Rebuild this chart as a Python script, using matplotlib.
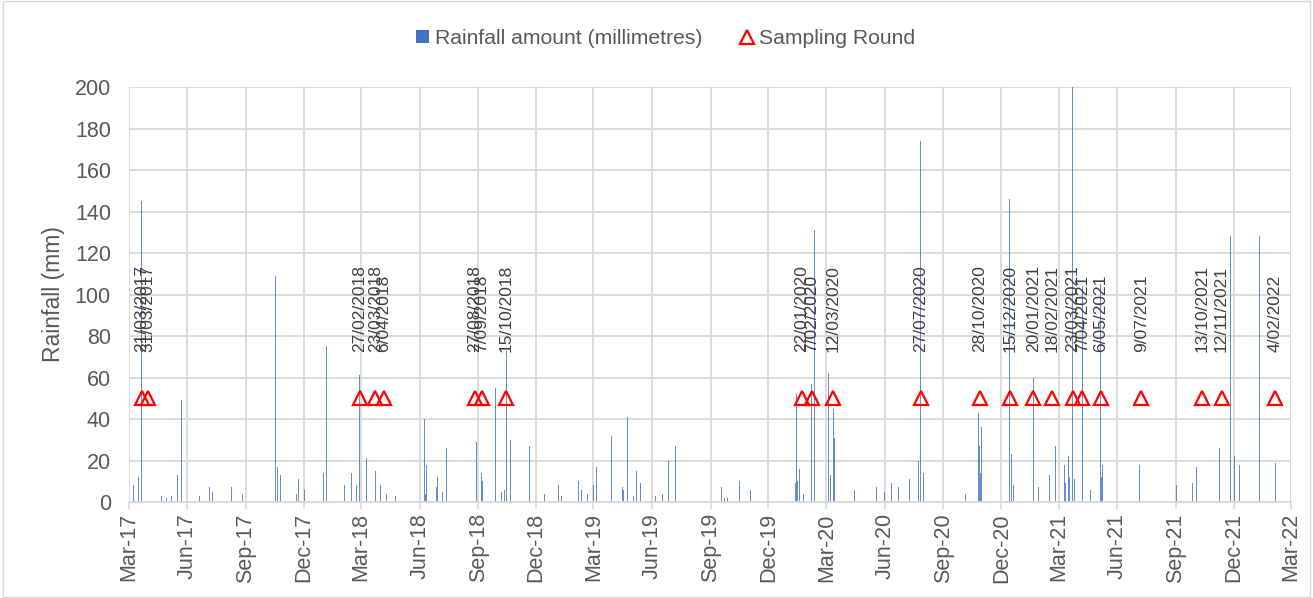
import matplotlib
matplotlib.use("Agg")
import matplotlib.pyplot as plt
import matplotlib.dates as mdates
from matplotlib import font_manager
from matplotlib.lines import Line2D
from matplotlib.patches import Patch, Rectangle
import pandas as pd

plt.rcParams["font.family"] = ["Liberation Sans", "DejaVu Sans"]

# daily rainfall (mm)
rain_dates = [
    "2017-03-08", "2017-03-16", "2017-03-21", "2017-03-23", "2017-03-31", "2017-04-08", "2017-04-11",
    "2017-04-21", "2017-04-25", "2017-04-29", "2017-05-07", "2017-05-11", "2017-05-16", "2017-05-20",
    "2017-05-23", "2017-06-13", "2017-06-16", "2017-06-20", "2017-07-06", "2017-07-10", "2017-07-19",
    "2017-08-09", "2017-08-26", "2017-08-27", "2017-10-04", "2017-10-17", "2017-10-20", "2017-10-25",
    "2017-11-09", "2017-11-14", "2017-11-19", "2017-11-22", "2017-12-02", "2017-12-06", "2017-12-12",
    "2017-12-28",
    "2018-01-01", "2018-01-03", "2018-01-05", "2018-01-30", "2018-02-03", "2018-02-05", "2018-02-14",
    "2018-02-22", "2018-02-26", "2018-02-27", "2018-03-07", "2018-03-09", "2018-03-15", "2018-03-23",
    "2018-03-31", "2018-04-04", "2018-04-10", "2018-04-24", "2018-05-09", "2018-05-29", "2018-06-08",
    "2018-06-10", "2018-06-12", "2018-06-27", "2018-06-29", "2018-07-07", "2018-07-13", "2018-08-08",
    "2018-08-29", "2018-09-06", "2018-09-08", "2018-09-28", "2018-10-07", "2018-10-12", "2018-10-15",
    "2018-10-16", "2018-10-22", "2018-10-30", "2018-11-20", "2018-11-29", "2018-12-07", "2018-12-14",
    "2018-12-18",
    "2019-01-05", "2019-01-10", "2019-02-05", "2019-02-10", "2019-02-20", "2019-02-25", "2019-03-01",
    "2019-03-06", "2019-03-08", "2019-03-16", "2019-03-19", "2019-03-27", "2019-03-29", "2019-03-30",
    "2019-04-04", "2019-04-07", "2019-04-16", "2019-04-17", "2019-04-23", "2019-05-03", "2019-05-08",
    "2019-05-14", "2019-05-18", "2019-05-24", "2019-06-06", "2019-06-17", "2019-06-26", "2019-06-27",
    "2019-07-01", "2019-07-08", "2019-09-18", "2019-09-23", "2019-09-28", "2019-10-14", "2019-10-16",
    "2019-11-03", "2019-12-02", "2019-12-16",
    "2020-01-12", "2020-01-14", "2020-01-16", "2020-01-19", "2020-01-21", "2020-01-25", "2020-02-06",
    "2020-02-07", "2020-02-11", "2020-02-12", "2020-02-26", "2020-03-04", "2020-03-07", "2020-03-12",
    "2020-03-14", "2020-03-27", "2020-04-14", "2020-05-19", "2020-05-21", "2020-05-31", "2020-06-09",
    "2020-06-11", "2020-06-15", "2020-06-22", "2020-07-10", "2020-07-24", "2020-07-27", "2020-08-01",
    "2020-08-03", "2020-08-31", "2020-09-11", "2020-09-22", "2020-10-06", "2020-10-26", "2020-10-28",
    "2020-10-29", "2020-10-31", "2020-12-10", "2020-12-14", "2020-12-17", "2020-12-20",
    "2021-01-18", "2021-01-20", "2021-01-28", "2021-02-15", "2021-02-17", "2021-02-24", "2021-03-03",
    "2021-03-10", "2021-03-12", "2021-03-16", "2021-03-18", "2021-03-22", "2021-03-23", "2021-03-26",
    "2021-04-07", "2021-04-08", "2021-04-20", "2021-05-06", "2021-05-07", "2021-05-09", "2021-05-11",
    "2021-06-04", "2021-06-29", "2021-07-06", "2021-07-18", "2021-08-09", "2021-08-23", "2021-09-02",
    "2021-09-27", "2021-10-01", "2021-10-04", "2021-10-12", "2021-10-14", "2021-10-20", "2021-11-09",
    "2021-11-11", "2021-11-26", "2021-11-27", "2021-12-02", "2021-12-10",
    "2022-01-11", "2022-01-24", "2022-02-04", "2022-02-05",
]
rain_mm = [
    8, 12, 145, 5, 55, 7, 3,
    3, 5, 2, 3, 17, 13, 6,
    49, 42, 27, 3, 7, 5, 18,
    7, 4, 2, 41, 109, 17, 13,
    14, 8, 4, 11, 6, 38, 8,
    41,
    14, 10, 75, 15, 8, 31, 14,
    8, 61, 22, 27, 21, 10, 15,
    8, 24, 4, 3, 32, 9, 40,
    4, 18, 7, 12, 5, 26, 3,
    29, 14, 10, 55, 5, 6, 73,
    20, 30, 8, 27, 10, 13, 4,
    20,
    8, 3, 10, 6, 4, 10, 8,
    17, 3, 22, 120, 12, 32, 22,
    24, 8, 7, 6, 41, 3, 15,
    9, 28, 4, 3, 4, 55, 20,
    8, 27, 7, 2, 2, 31, 10,
    6, 8, 10,
    9, 52, 10, 16, 147, 4, 13,
    57, 131, 11, 22, 62, 13, 45,
    31, 8, 6, 7, 5, 5, 12,
    9, 6, 7, 11, 20, 174, 14,
    11, 5, 16, 8, 4, 43, 27,
    14, 36, 5, 146, 23, 8,
    16, 60, 7, 13, 9, 27, 18,
    18, 9, 22, 12, 163, 205, 11,
    104, 34, 6, 105, 12, 18, 19,
    9, 11, 18, 6, 7, 6, 8,
    9, 20, 17, 29, 40, 42, 26,
    25, 128, 36, 22, 18,
    128, 55, 19, 19,
]

sampling_dates = [
    "21/03/2017", "31/03/2017", "27/02/2018", "23/03/2018", "6/04/2018", "27/08/2018", "7/09/2018",
    "15/10/2018", "22/01/2020", "7/02/2020", "12/03/2020", "27/07/2020", "28/10/2020", "15/12/2020",
    "20/01/2021", "18/02/2021", "23/03/2021", "7/04/2021", "6/05/2021", "9/07/2021", "13/10/2021",
    "12/11/2021", "4/02/2022",
]
sampling_level = [50] * len(sampling_dates)

rain_x = pd.to_datetime(rain_dates)
samp_x = pd.to_datetime(sampling_dates, format="%d/%m/%Y")

grey_text = "#595959"
grid_col = "#D9D9D9"

# narrower face for the date labels if it is there
installed = {f.name for f in font_manager.fontManager.ttflist}
if "Liberation Sans Narrow" in installed:
    label_font, label_size = "Liberation Sans Narrow", 14.5
else:
    label_font, label_size = "Liberation Sans", 12.5

fig = plt.figure(figsize=(13.13, 5.98), dpi=100)
ax = fig.add_axes([0.0982, 0.1605, 0.885, 0.694])

ax.bar(rain_x, rain_mm, width=1.0, color="#4472C4", alpha=0.8, linewidth=0, zorder=2)

ax.plot(samp_x, sampling_level, linestyle="none", marker="^", markersize=9.5,
        markerfacecolor="none", markeredgecolor="#FF0000", markeredgewidth=1.6, zorder=4)
for x, y, lab in zip(samp_x, sampling_level, sampling_dates):
    ax.annotate(lab, (x, y), xytext=(0, 33), textcoords="offset points", rotation=90,
                ha="center", va="bottom", fontsize=label_size, family=label_font,
                color="#404040", zorder=5)

ax.set_xlim(pd.Timestamp("2017-03-01"), pd.Timestamp("2022-03-01"))
ax.set_ylim(0, 200)
ax.set_yticks(range(0, 201, 20))
ax.xaxis.set_major_locator(mdates.MonthLocator(bymonth=[3, 6, 9, 12]))
ax.xaxis.set_major_formatter(mdates.DateFormatter("%b-%y"))
ax.tick_params(axis="x", rotation=90, labelsize=15.5, labelcolor=grey_text, color=grid_col,
               length=5, width=1.2, pad=3)
ax.tick_params(axis="y", labelsize=15.5, labelcolor=grey_text, length=0, pad=13)
ax.set_ylabel("Rainfall (mm)", fontsize=16.5, color=grey_text)
ax.yaxis.set_label_coords(-0.055, 0.5)

ax.grid(True, color=grid_col, linewidth=1.3, zorder=0)
ax.set_axisbelow(True)
for side in ["top", "right", "left"]:
    ax.spines[side].set_visible(False)
ax.spines["bottom"].set_color(grid_col)
ax.spines["bottom"].set_linewidth(1.3)

handles = [
    Patch(facecolor="#4472C4", edgecolor="none", label="Rainfall amount (millimetres)"),
    Line2D([], [], linestyle="none", marker="^", markersize=9.5, markerfacecolor="none",
           markeredgecolor="#FF0000", markeredgewidth=1.6, label="Sampling Round"),
]
fig.legend(handles=handles, loc="center", bbox_to_anchor=(0.507, 0.936), ncol=2, frameon=False,
           fontsize=15.2, labelcolor=grey_text, handlelength=0.6, handleheight=0.6,
           handletextpad=0.3, columnspacing=1.8)

fig.patches.append(Rectangle((0.002, 0.002), 0.996, 0.996, transform=fig.transFigure,
                             fill=False, edgecolor=grid_col, linewidth=1))

fig.savefig("out.png", dpi=100, facecolor="white")
